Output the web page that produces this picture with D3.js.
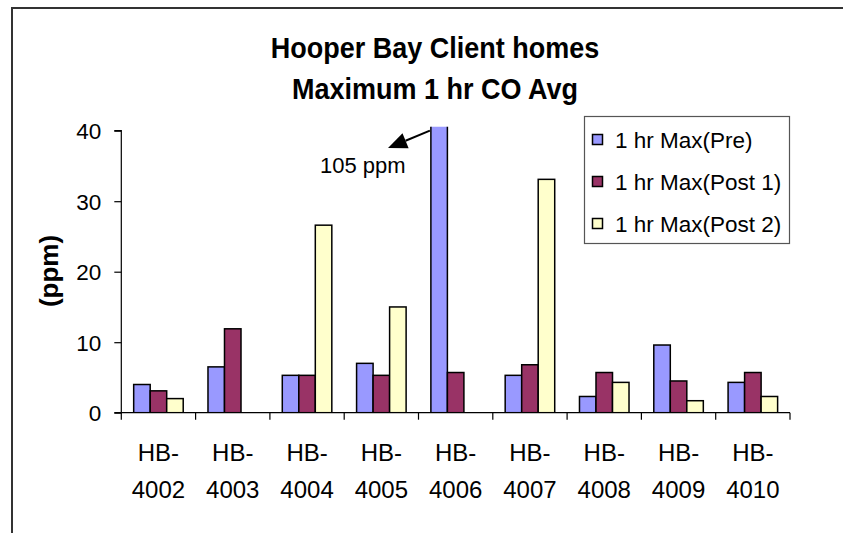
<!DOCTYPE html>
<html>
<head>
<meta charset="utf-8">
<script src="https://cdn.jsdelivr.net/npm/d3@7/dist/d3.min.js"></script>
<style>
  html, body { margin: 0; padding: 0; background: #fff; overflow: hidden; }
  svg { display: block; font-family: "Liberation Sans", Arial, sans-serif; }
</style>
</head>
<body>
<svg id="chart" width="843" height="533"></svg>
<script>
// ---- Data ----
const categories = ["HB-4002","HB-4003","HB-4004","HB-4005","HB-4006","HB-4007","HB-4008","HB-4009","HB-4010"];
const seriesNames = ["1 hr Max(Pre)","1 hr Max(Post 1)","1 hr Max(Post 2)"];
const preValues   = [4.0, 6.5, 5.3, 7.0, 105, 5.3, 2.3, 9.6, 4.3];
const post1Values = [3.1, 11.9, 5.3, 5.3, 5.7, 6.8, 5.7, 4.5, 5.7];
const post2Values = [2.0, null, 26.6, 15.0, null, 33.1, 4.3, 1.7, 2.3];
const yTicks = [0, 10, 20, 30, 40];
const seriesColors = ["#9999FF", "#993366", "#FFFFCC"];
const titleLines = ["Hooper Bay Client homes", "Maximum 1 hr CO Avg"];
const yAxisTitle = "(ppm)";
const annotationText = "105 ppm";

const seriesValues = [preValues, post1Values, post2Values];

const svg = d3.select("#chart");

// Outer chart border (only top and left edges fall inside the image)
svg.append("path")
  .attr("d", "M12,545V8H860")
  .attr("fill", "none").attr("stroke", "#333").attr("stroke-width", 2);

// Title (slightly tall glyphs as in the reference)
svg.append("g").selectAll("text").data(titleLines).join("text")
  .attr("transform", (d, i) => `translate(435,${58 + i * 41}) scale(1,1.1)`)
  .attr("text-anchor", "middle")
  .attr("font-weight", "bold")
  .attr("font-size", 27)
  .attr("fill", "#000")
  .text(d => d);

// Scales
const plotLeft = 121.3, plotRight = 790, yBottom = 412.7, yTop = 130.7;
const x = d3.scaleBand().domain(categories).range([plotLeft, plotRight]).paddingInner(0).paddingOuter(0);
const step = x.bandwidth();
const barW = step / (3 + 1.5);
const xs = d3.scaleBand().domain(d3.range(3)).range([barW * 0.75, barW * 0.75 + barW * 3]).padding(0);
const y = d3.scaleLinear().domain([0, 40]).range([yBottom, yTop]);

// Clip for bars exceeding the axis max
svg.append("clipPath").attr("id", "plotclip")
  .append("rect").attr("x", plotLeft).attr("y", yTop - 4)
  .attr("width", plotRight - plotLeft).attr("height", yBottom - yTop + 4);

// Bars
const barData = [];
categories.forEach((c, ci) => {
  seriesValues.forEach((vals, si) => {
    if (vals[ci] !== null && vals[ci] !== undefined) barData.push({ c, si, v: vals[ci] });
  });
});
svg.append("g").attr("clip-path", "url(#plotclip)")
  .selectAll("rect").data(barData).join("rect")
  .attr("x", d => x(d.c) + xs(d.si))
  .attr("width", xs.bandwidth())
  .attr("y", d => y(d.v))
  .attr("height", d => yBottom - y(d.v))
  .attr("fill", d => seriesColors[d.si])
  .attr("stroke", "#000")
  .attr("stroke-width", 1.5);

// Y axis
const yAxis = d3.axisLeft(y).tickValues(yTicks).tickSize(7).tickPadding(13).tickFormat(d3.format("d"));
const yg = svg.append("g").attr("transform", `translate(${plotLeft},0)`).call(yAxis);
yg.select(".domain").attr("stroke", "#000").attr("stroke-width", 1.2).attr("d", `M-7,${yTop}H0V${yBottom}H-7`);
yg.selectAll(".tick line").attr("stroke", "#000").attr("stroke-width", 1.2);
yg.selectAll(".tick text").attr("font-size", 22.5).attr("fill", "#000")
  .attr("font-family", "'Liberation Sans', Arial, sans-serif").attr("dy", "0.36em");

// X axis: line + boundary ticks
const xg = svg.append("g");
xg.append("line").attr("x1", plotLeft).attr("x2", plotRight).attr("y1", yBottom).attr("y2", yBottom)
  .attr("stroke", "#000").attr("stroke-width", 1.2);
const boundaries = categories.map(c => x(c)).concat([plotRight]);
xg.selectAll("line.tk").data(boundaries).join("line").attr("class", "tk")
  .attr("x1", d => d).attr("x2", d => d).attr("y1", yBottom).attr("y2", yBottom + 7)
  .attr("stroke", "#000").attr("stroke-width", 1.2);
const labels = xg.selectAll("text").data(categories).join("text")
  .attr("x", d => x(d) + step / 2)
  .attr("text-anchor", "middle")
  .attr("font-size", 24)
  .attr("fill", "#000");
labels.append("tspan").attr("x", d => x(d) + step / 2).attr("y", 461).text(d => d.split("-")[0] + "-");
labels.append("tspan").attr("x", d => x(d) + step / 2).attr("y", 498).text(d => d.split("-")[1]);

// Y axis title
svg.append("text")
  .attr("transform", "translate(58,271) rotate(-90)")
  .attr("text-anchor", "middle")
  .attr("font-weight", "bold")
  .attr("font-size", 26)
  .attr("fill", "#000")
  .text(yAxisTitle);

// Annotation arrow and text
const bar4006x = x("HB-4006") + xs(0);
const arrowStart = [bar4006x - 1, y(40)];
const arrowTip = [388, 148];
const ang = Math.atan2(arrowTip[1] - arrowStart[1], arrowTip[0] - arrowStart[0]);
const headLen = 19, headHalf = 8;
const bx = arrowTip[0] - headLen * Math.cos(ang), by = arrowTip[1] - headLen * Math.sin(ang);
svg.append("line")
  .attr("x1", arrowStart[0]).attr("y1", arrowStart[1])
  .attr("x2", bx).attr("y2", by)
  .attr("stroke", "#000").attr("stroke-width", 2);
svg.append("path")
  .attr("d", `M${arrowTip[0]},${arrowTip[1]}L${bx + headHalf * Math.sin(ang)},${by - headHalf * Math.cos(ang)}L${bx - headHalf * Math.sin(ang)},${by + headHalf * Math.cos(ang)}Z`)
  .attr("fill", "#000");
svg.append("text")
  .attr("x", 320).attr("y", 173)
  .attr("font-size", 22)
  .attr("fill", "#000")
  .text(annotationText);

// Legend
const lg = svg.append("g");
lg.append("rect").attr("x", 584.5).attr("y", 116.5).attr("width", 205).attr("height", 127)
  .attr("fill", "#fff").attr("stroke", "#555").attr("stroke-width", 1.2);
const items = lg.selectAll("g.item").data(seriesNames).join("g").attr("class", "item")
  .attr("transform", (d, i) => `translate(0,${139.5 + i * 42})`);
items.append("rect").attr("x", 592.5).attr("y", -5).attr("width", 10).attr("height", 10)
  .attr("fill", (d, i) => seriesColors[i]).attr("stroke", "#000").attr("stroke-width", 1.5);
items.append("text").attr("x", 615).attr("y", 8).attr("font-size", 22.5).attr("fill", "#000").text(d => d);
</script>
</body>
</html>
